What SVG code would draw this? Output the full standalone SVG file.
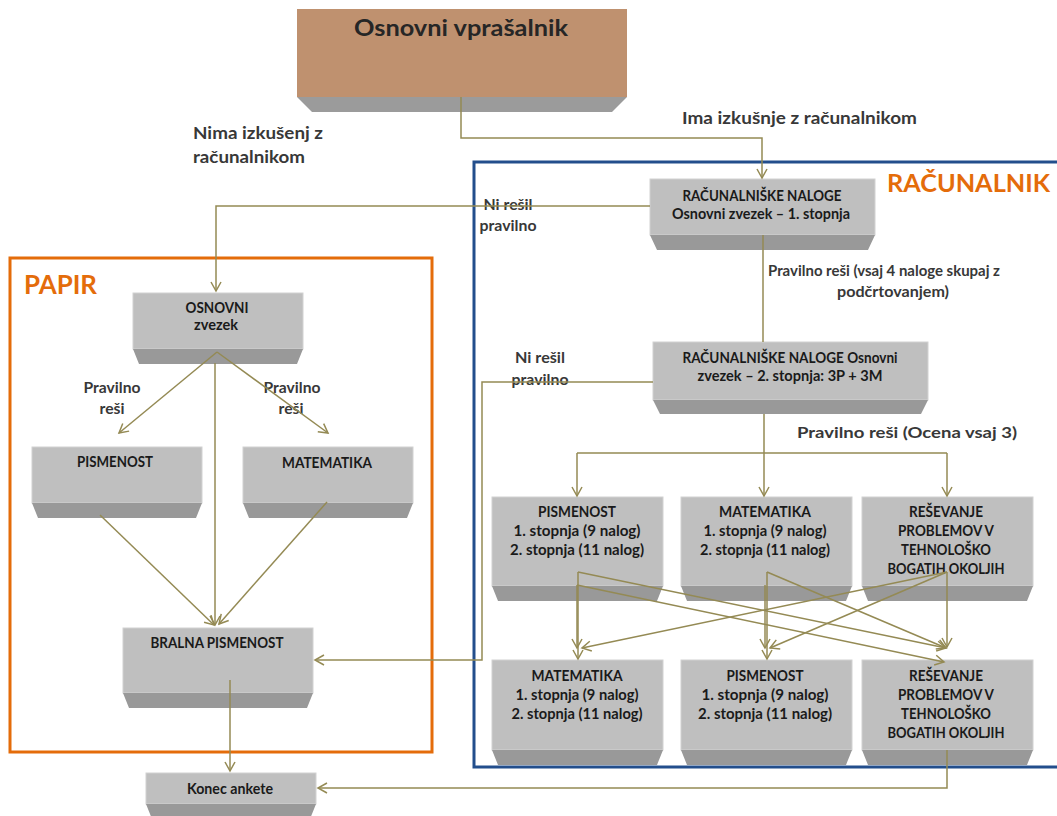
<svg xmlns="http://www.w3.org/2000/svg" width="1057" height="816" viewBox="0 0 1057 816">
<style>
text{font-family:Lato,"Liberation Sans",sans-serif;font-weight:bold}
.bt{font-size:15px;fill:#1a1a1a;text-anchor:middle}
.lb{font-size:16px;fill:#383838}
.lbm{font-size:16px;fill:#383838;text-anchor:middle}
.face{fill:#bfbfbf;stroke:#d2d2d2;stroke-width:1}
.bev{fill:#999999}
.con{fill:none;stroke:#948a54;stroke-width:1.5}
.arr{marker-end:url(#ah)}
</style>
<defs>
<marker id="ah" markerWidth="12" markerHeight="12" refX="10" refY="6" orient="auto" markerUnits="userSpaceOnUse">
<path d="M1,1 L10,6 L1,11" fill="none" stroke="#948a54" stroke-width="1.5"/>
</marker>
</defs>
<rect width="1057" height="816" fill="#ffffff"/>

<g id="frames">
<rect x="474" y="162" width="600" height="605" fill="none" stroke="#234e8c" stroke-width="3"/>
<rect x="10" y="258" width="422" height="494" fill="none" stroke="#e46c0a" stroke-width="3"/>
<text x="887" y="192" font-size="25" fill="#e46c0a" textLength="163" lengthAdjust="spacingAndGlyphs">RAČUNALNIK</text>
<text x="24" y="294" font-size="26" fill="#e46c0a" textLength="73" lengthAdjust="spacingAndGlyphs">PAPIR</text>
</g>

<g id="labels">
<text class="lb" x="193" y="139" textLength="130" lengthAdjust="spacingAndGlyphs" style="font-size:17px">Nima izkušenj z</text>
<text class="lb" x="193" y="163" textLength="112" lengthAdjust="spacingAndGlyphs" style="font-size:17px">računalnikom</text>
<text class="lb" x="682" y="124" textLength="235" lengthAdjust="spacingAndGlyphs" style="font-size:17px">Ima izkušnje z računalnikom</text>
<text class="lbm" x="508" y="210" textLength="49" lengthAdjust="spacingAndGlyphs">Ni  rešil</text>
<text class="lbm" x="508" y="231" textLength="57" lengthAdjust="spacingAndGlyphs">pravilno</text>
<text class="lbm" x="540" y="363" textLength="50" lengthAdjust="spacingAndGlyphs">Ni rešil</text>
<text class="lbm" x="540" y="385" textLength="57" lengthAdjust="spacingAndGlyphs">pravilno</text>
<text class="lb" x="768" y="276" textLength="232" lengthAdjust="spacingAndGlyphs">Pravilno reši (vsaj 4 naloge skupaj z</text>
<text class="lb" x="837" y="297" textLength="112" lengthAdjust="spacingAndGlyphs">podčrtovanjem)</text>
<text class="lb" x="797" y="438" textLength="220" lengthAdjust="spacingAndGlyphs">Pravilno reši (Ocena vsaj 3)</text>
<text class="lbm" x="112" y="393" textLength="57" lengthAdjust="spacingAndGlyphs">Pravilno</text>
<text class="lbm" x="112" y="414" textLength="25" lengthAdjust="spacingAndGlyphs">reši</text>
<text class="lbm" x="292" y="393" textLength="57" lengthAdjust="spacingAndGlyphs">Pravilno</text>
<text class="lbm" x="291" y="414" textLength="25" lengthAdjust="spacingAndGlyphs">reši</text>
</g>

<g id="n-start">
<rect x="297" y="9" width="330" height="88" fill="#bf916f"/>
<polygon points="297,97 627,97 612,112 312,112" fill="#9b9b9b"/>
<text x="461" y="36" font-size="23" fill="#262626" text-anchor="middle" textLength="214" lengthAdjust="spacingAndGlyphs">Osnovni vprašalnik</text>
</g>

<g id="n-r1">
<rect class="face" x="650" y="179" width="225" height="56"/>
<polygon class="bev" points="650,235 875,235 868,250 657,250"/>
<text class="bt" x="762" y="201" textLength="159" lengthAdjust="spacingAndGlyphs">RAČUNALNIŠKE NALOGE</text>
<text class="bt" x="761" y="219" textLength="178" lengthAdjust="spacingAndGlyphs">Osnovni zvezek – 1. stopnja</text>
</g>

<g id="n-r2">
<rect class="face" x="653" y="342" width="275" height="58"/>
<polygon class="bev" points="653,400 928,400 921,414 660,414"/>
<text class="bt" x="790" y="363" textLength="215" lengthAdjust="spacingAndGlyphs">RAČUNALNIŠKE NALOGE Osnovni</text>
<text class="bt" x="790" y="381" textLength="185" lengthAdjust="spacingAndGlyphs">zvezek –  2. stopnja: 3P + 3M</text>
</g>

<g id="n-t-pis">
<rect class="face" x="492" y="497" width="171" height="89"/>
<polygon class="bev" points="492,586 663,586 657,601 498,601"/>
<text class="bt" x="577" y="517" textLength="78" lengthAdjust="spacingAndGlyphs">PISMENOST</text>
<text class="bt" x="577" y="536" textLength="127" lengthAdjust="spacingAndGlyphs">1.  stopnja (9 nalog)</text>
<text class="bt" x="577" y="555" textLength="134" lengthAdjust="spacingAndGlyphs">2. stopnja (11  nalog)</text>
</g>

<g id="n-t-mat">
<rect class="face" x="681" y="497" width="171" height="89"/>
<polygon class="bev" points="681,586 852,586 846,601 687,601"/>
<text class="bt" x="765" y="517" textLength="92" lengthAdjust="spacingAndGlyphs">MATEMATIKA</text>
<text class="bt" x="765" y="536" textLength="123" lengthAdjust="spacingAndGlyphs">1. stopnja (9 nalog)</text>
<text class="bt" x="765" y="555" textLength="130" lengthAdjust="spacingAndGlyphs">2. stopnja (11 nalog)</text>
</g>

<g id="n-t-res">
<rect class="face" x="862" y="497" width="171" height="89"/>
<polygon class="bev" points="862,586 1033,586 1027,601 868,601"/>
<text class="bt" x="946" y="517" textLength="74" lengthAdjust="spacingAndGlyphs">REŠEVANJE</text>
<text class="bt" x="946" y="536" textLength="96" lengthAdjust="spacingAndGlyphs">PROBLEMOV V</text>
<text class="bt" x="946" y="555" textLength="90" lengthAdjust="spacingAndGlyphs">TEHNOLOŠKO</text>
<text class="bt" x="946" y="574" textLength="117" lengthAdjust="spacingAndGlyphs">BOGATIH OKOLJIH</text>
</g>

<g id="n-b-mat">
<rect class="face" x="492" y="660" width="171" height="90"/>
<polygon class="bev" points="492,750 663,750 657,765 498,765"/>
<text class="bt" x="577" y="681" textLength="91" lengthAdjust="spacingAndGlyphs">MATEMATIKA</text>
<text class="bt" x="577" y="700" textLength="123" lengthAdjust="spacingAndGlyphs">1. stopnja (9 nalog)</text>
<text class="bt" x="577" y="719" textLength="131" lengthAdjust="spacingAndGlyphs">2. stopnja (11 nalog)</text>
</g>

<g id="n-b-pis">
<rect class="face" x="681" y="660" width="171" height="90"/>
<polygon class="bev" points="681,750 852,750 846,765 687,765"/>
<text class="bt" x="765" y="681" textLength="77" lengthAdjust="spacingAndGlyphs">PISMENOST</text>
<text class="bt" x="765" y="700" textLength="127" lengthAdjust="spacingAndGlyphs">1.  stopnja (9 nalog)</text>
<text class="bt" x="765" y="719" textLength="134" lengthAdjust="spacingAndGlyphs">2. stopnja (11  nalog)</text>
</g>

<g id="n-b-res">
<rect class="face" x="862" y="660" width="171" height="90"/>
<polygon class="bev" points="862,750 1033,750 1027,765 868,765"/>
<text class="bt" x="946" y="681" textLength="74" lengthAdjust="spacingAndGlyphs">REŠEVANJE</text>
<text class="bt" x="946" y="700" textLength="96" lengthAdjust="spacingAndGlyphs">PROBLEMOV V</text>
<text class="bt" x="946" y="719" textLength="90" lengthAdjust="spacingAndGlyphs">TEHNOLOŠKO</text>
<text class="bt" x="946" y="738" textLength="117" lengthAdjust="spacingAndGlyphs">BOGATIH OKOLJIH</text>
</g>

<g id="n-osnovni">
<rect class="face" x="133" y="293" width="170" height="56"/>
<polygon class="bev" points="133,349 303,349 297,364 139,364"/>
<text class="bt" x="217" y="313" textLength="63" lengthAdjust="spacingAndGlyphs">OSNOVNI</text>
<text class="bt" x="216" y="330" textLength="44" lengthAdjust="spacingAndGlyphs">zvezek</text>
</g>

<g id="n-p-pis">
<rect class="face" x="32" y="447" width="170" height="56"/>
<polygon class="bev" points="32,503 202,503 196,518 38,518"/>
<text class="bt" x="115" y="467" textLength="76" lengthAdjust="spacingAndGlyphs">PISMENOST</text>
</g>

<g id="n-p-mat">
<rect class="face" x="243" y="447" width="170" height="56"/>
<polygon class="bev" points="243,503 413,503 407,518 249,518"/>
<text class="bt" x="327" y="468" textLength="90" lengthAdjust="spacingAndGlyphs">MATEMATIKA</text>
</g>

<g id="n-bralna">
<rect class="face" x="123" y="628" width="190" height="65"/>
<polygon class="bev" points="123,693 313,693 307,708 129,708"/>
<text class="bt" x="217" y="648" textLength="133" lengthAdjust="spacingAndGlyphs">BRALNA PISMENOST</text>
</g>

<g id="n-konec">
<rect class="face" x="146" y="773" width="170" height="31"/>
<polygon class="bev" points="146,804 316,804 310,819 152,819"/>
<text class="bt" x="230" y="794" textLength="86" lengthAdjust="spacingAndGlyphs">Konec ankete</text>
</g>

<g id="connectors">
<path class="con arr" d="M461,97 V138 H762 V178"/>
<path class="con arr" d="M650,206 H216 V291"/>
<path class="con" d="M763,235 V342"/>
<path class="con arr" d="M653,382 H482 V660 H315"/>
<path class="con" d="M764,414 V453 M577,453 H947"/>
<path class="con arr" d="M577,453 V496"/>
<path class="con arr" d="M764,453 V496"/>
<path class="con arr" d="M947,453 V496"/>
<path class="con arr" d="M578,572 V659"/>
<path class="con arr" d="M577,585 V648"/>
<path class="con arr" d="M578,572 L946,648"/>
<path class="con arr" d="M577,585 L944,662"/>
<path class="con arr" d="M767,572 V659"/>
<path class="con arr" d="M765,585 V648"/>
<path class="con arr" d="M767,572 L946,648"/>
<path class="con arr" d="M947,572 L582,648"/>
<path class="con arr" d="M947,572 L770,648"/>
<path class="con arr" d="M947,572 V647"/>
<path class="con arr" d="M947,750 V788 H318"/>
<path class="con arr" d="M217,352 L119,433"/>
<path class="con arr" d="M217,352 L328,433"/>
<path class="con arr" d="M215,363 V625"/>
<path class="con arr" d="M100,515 L214,625"/>
<path class="con arr" d="M327,502 L219,624"/>
<path class="con arr" d="M230,680 V771"/>
</g>
</svg>
